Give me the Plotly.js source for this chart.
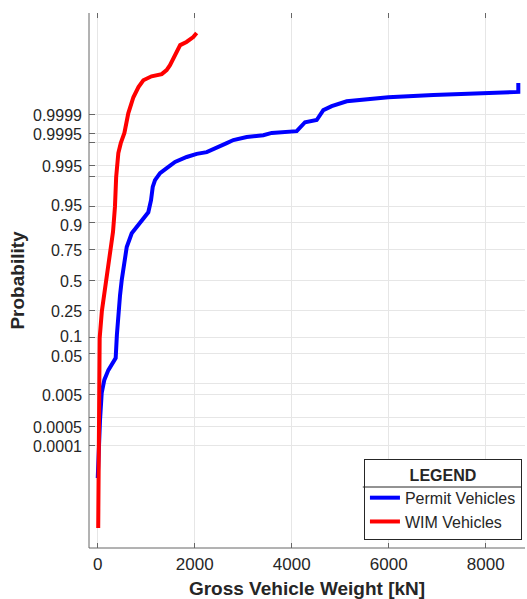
<!DOCTYPE html>
<html>
<head>
<meta charset="utf-8">
<script src="https://cdn.plot.ly/plotly-3.0.1.min.js"></script>
<style>html,body{margin:0;padding:0;background:#fff;}#chart{width:527px;height:599px;}</style>
</head>
<body>
<div id="chart"></div>
<script>
// ---- data (normal probability plot; y stored as standard normal quantile z = Phi^-1(p)) ----
const permitWeight = [0, 20, 47, 82, 136, 219, 370, 395, 425, 460, 495, 598, 701, 804, 940, 1043, 1099, 1134, 1181, 1285, 1423, 1594, 1835, 2041, 2247, 2453, 2660, 2797, 3072, 3414, 3588, 4103, 4171, 4274, 4515, 4584, 4652, 4825, 4996, 5134, 5992, 6920, 8672, 8672];
const permitQuantile = [-4.44, -3.81, -3.14, -2.53, -2.24, -2.02, -1.75, -1.23, -0.74, -0.34, 0, 0.74, 1.05, 1.19, 1.35, 1.52, 1.79, 2.09, 2.24, 2.40, 2.51, 2.65, 2.76, 2.83, 2.87, 2.96, 3.07, 3.14, 3.21, 3.25, 3.30, 3.34, 3.43, 3.54, 3.59, 3.70, 3.81, 3.90, 3.95, 4.01, 4.10, 4.15, 4.22, 4.42];
const wimWeight = [10, 15, 30, 40, 85, 170, 270, 315, 355, 380, 425, 475, 550, 630, 735, 840, 940, 1110, 1320, 1420, 1490, 1590, 1700, 1830, 1970, 2040];
const wimQuantile = [-5.56, -4.26, -2.69, -1.30, -0.70, 0, 0.67, 1.08, 1.64, 2.31, 2.85, 3.07, 3.30, 3.74, 4.10, 4.33, 4.48, 4.57, 4.62, 4.71, 4.82, 5.04, 5.27, 5.34, 5.45, 5.54];
const probTicks = [0.0001, 0.0005, 0.001, 0.005, 0.01, 0.05, 0.1, 0.25, 0.5, 0.75, 0.9, 0.95, 0.99, 0.995, 0.999, 0.9995, 0.9999];
const probTickText = ['0.0001', '0.0005', '', '0.005', '', '0.05', '0.1', '0.25', '0.5', '0.75', '0.9', '0.95', '', '0.995', '', '0.9995', '0.9999'];
const xTicks = [0, 2000, 4000, 6000, 8000];

// inverse standard normal CDF (Acklam)
function normInv(p) {
  const a = [-3.969683028665376e+01, 2.209460984245205e+02, -2.759285104469687e+02, 1.383577518672690e+02, -3.066479806614716e+01, 2.506628277459239e+00];
  const b = [-5.447609879822406e+01, 1.615858368580409e+02, -1.556989798598866e+02, 6.680131188771972e+01, -1.328068155288572e+01];
  const c = [-7.784894002430293e-03, -3.223964580411365e-01, -2.400758277161838e+00, -2.549732539343734e+00, 4.374664141464968e+00, 2.938163982698783e+00];
  const d = [7.784695709041462e-03, 3.224671290700398e-01, 2.445134137142996e+00, 3.754408661907416e+00];
  const pl = 0.02425, ph = 1 - pl;
  let q, r;
  if (p < pl) {
    q = Math.sqrt(-2 * Math.log(p));
    return (((((c[0]*q+c[1])*q+c[2])*q+c[3])*q+c[4])*q+c[5]) / ((((d[0]*q+d[1])*q+d[2])*q+d[3])*q+1);
  } else if (p <= ph) {
    q = p - 0.5; r = q * q;
    return (((((a[0]*r+a[1])*r+a[2])*r+a[3])*r+a[4])*r+a[5])*q / (((((b[0]*r+b[1])*r+b[2])*r+b[3])*r+b[4])*r+1);
  } else {
    q = Math.sqrt(-2 * Math.log(1 - p));
    return -(((((c[0]*q+c[1])*q+c[2])*q+c[3])*q+c[4])*q+c[5]) / ((((d[0]*q+d[1])*q+d[2])*q+d[3])*q+1);
  }
}

const FONT = 'Liberation Sans, Arial, sans-serif';
const TXT = '#262626';

const traces = [
  {x: permitWeight, y: permitQuantile, mode: 'lines', name: 'Permit Vehicles', line: {color: '#0000ff', width: 4}},
  {x: wimWeight, y: wimQuantile, mode: 'lines', name: 'WIM Vehicles', line: {color: '#ff0000', width: 4}}
];

// y tick labels drawn as annotations so that the tightly packed pairs can be nudged apart
const nudge = {'0.95': 2, '0.9': -2, '0.1': 2, '0.05': -2};
const annotations = probTicks.map((p, i) => ({
  xref: 'paper', yref: 'y', x: 0, y: normInv(p), xanchor: 'right', yanchor: 'middle',
  xshift: -5, yshift: (nudge[probTickText[i]] || 0) - 1, showarrow: false,
  text: probTickText[i], font: {family: FONT, size: 16, color: TXT}
})).filter(a => a.text !== '');
annotations.push({
  xref: 'paper', yref: 'paper', x: -0.165, y: 0.5, xanchor: 'center', yanchor: 'middle',
  textangle: -90, showarrow: false, text: '<b>Probability</b>',
  font: {family: FONT, size: 19, color: TXT}
});

const layout = {
  width: 527, height: 599,
  margin: {l: 89, r: 2, t: 13, b: 51},
  paper_bgcolor: '#fff', plot_bgcolor: '#fff',
  font: {family: FONT, size: 17, color: TXT},
  showlegend: true,
  xaxis: {
    range: [-180, 8810], tickvals: xTicks, ticktext: xTicks.map(String),
    showgrid: true, gridcolor: '#e6e6e6', gridwidth: 1, zeroline: false,
    showline: false, ticks: 'inside', ticklen: 5, tickcolor: '#666', mirror: 'ticks',
    tickfont: {family: FONT, size: 17, color: TXT}, ticklabelstandoff: 4,
    title: {text: 'Gross Vehicle Weight [kN]', font: {family: FONT, size: 19, color: TXT, weight: 'bold'}, standoff: 12}
  },
  yaxis: {
    range: [-6.01, 5.99], tickvals: probTicks.map(normInv), showticklabels: false,
    showgrid: true, gridcolor: '#e6e6e6', gridwidth: 1, zeroline: false,
    showline: false, ticks: 'inside', ticklen: 6, tickcolor: '#666'
  },
  legend: {
    x: 0.993, y: 0.015, xanchor: 'right', yanchor: 'bottom',
    bgcolor: 'rgba(0,0,0,0)', bordercolor: TXT, borderwidth: 1,
    font: {family: FONT, size: 16, color: TXT},
    title: {text: 'LEGEND', side: 'top center', font: {family: FONT, size: 16, color: TXT, weight: 'bold'}},
    tracegroupgap: 0, itemwidth: 30
  },
  annotations: annotations,
  shapes: [
    {type: 'line', xref: 'paper', yref: 'paper', x0: 0, x1: 0, y0: 0, y1: 1, line: {color: '#666', width: 1}},
    {type: 'line', xref: 'paper', yref: 'paper', x0: 0, x1: 1, y0: 0, y1: 0, line: {color: '#666', width: 1}},
    // white backing for the legend box, and the rule under its title
    {type: 'rect', layer: 'above', xref: 'paper', yref: 'paper', x0: 0.628, x1: 0.992, y0: 0.015, y1: 0.166, fillcolor: '#fff', line: {width: 0}},
    {type: 'line', layer: 'above', xref: 'paper', yref: 'paper', x0: 0.628, x1: 0.992, y0: 0.114, y1: 0.114, line: {color: TXT, width: 1}}
  ]
};

Plotly.newPlot('chart', traces, layout, {displayModeBar: false, staticPlot: true});
</script>
</body>
</html>
